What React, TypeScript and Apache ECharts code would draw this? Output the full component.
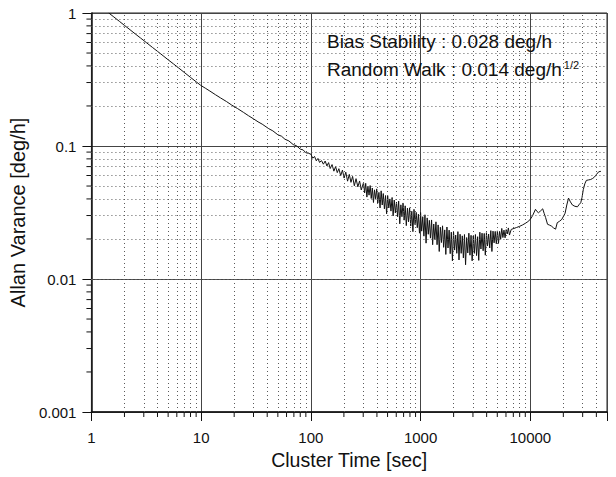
import React, { useEffect, useRef } from "react";
import * as echarts from "echarts";

// ---- data ----
// smooth part (tau < 100 s)
const tauA = [
  1.44, 1.6, 1.8, 2, 2.25, 2.5, 2.8, 3.16, 3.6, 4,
  4.5, 5, 5.6, 6.24, 7, 8, 9, 9.9, 11, 12,
  13.5, 15, 17, 19, 21.5, 24.3, 27, 30, 33, 36,
  41.3, 45, 50, 54, 58, 63, 69, 74, 80, 85,
  90, 95,
];
const devA = [
  1.0, 0.934, 0.865, 0.807, 0.748, 0.698, 0.649, 0.6, 0.551, 0.515,
  0.477, 0.445, 0.414, 0.386, 0.358, 0.328, 0.304, 0.286, 0.271, 0.259,
  0.243, 0.23, 0.216, 0.203, 0.191, 0.179, 0.169, 0.16, 0.152, 0.146,
  0.135, 0.13, 0.1215, 0.1185, 0.1125, 0.1092, 0.1025, 0.1004, 0.0948, 0.0934,
  0.089, 0.0882,
];
// onset of the noise (100 s .. 300 s)
const tauB = [
  100, 104, 108, 112, 116, 120, 125, 130, 135, 140,
  145, 150, 156, 162, 168, 174, 180, 187, 194, 201,
  208, 216, 224, 232, 240, 249, 258, 268, 278, 288,
];
const devB = [
  0.0868, 0.0809, 0.0835, 0.0774, 0.0806, 0.0753, 0.0776, 0.073, 0.0771, 0.0708,
  0.075, 0.0677, 0.0725, 0.0647, 0.07, 0.0631, 0.0675, 0.0598, 0.0659, 0.0574,
  0.0636, 0.0544, 0.0612, 0.0533, 0.0591, 0.0502, 0.0568, 0.0493, 0.0546, 0.0467,
];
// dense noisy band (300 s .. 6500 s)
const tauBand = [
  302, 309, 316, 324, 331, 339, 347, 355, 363, 372,
  380, 389, 398, 407, 417, 427, 437, 447, 457, 468,
  479, 490, 501, 513, 525, 537, 550, 562, 575, 589,
  603, 617, 631, 646, 661, 676, 692, 708, 724, 741,
  759, 776, 794, 813, 832, 851, 871, 891, 912, 933,
  955, 977, 1000, 1023, 1047, 1072, 1096, 1122, 1148, 1175,
  1202, 1230, 1259, 1288, 1318, 1349, 1380, 1413, 1445, 1479,
  1514, 1549, 1585, 1622, 1660, 1698, 1738, 1778, 1820, 1862,
  1905, 1950, 1995, 2042, 2089, 2138, 2188, 2239, 2291, 2344,
  2399, 2455, 2512, 2570, 2630, 2692, 2754, 2818, 2884, 2951,
  3020, 3090, 3162, 3236, 3311, 3388, 3467, 3548, 3631, 3715,
  3802, 3890, 3981, 4074, 4169, 4266, 4365, 4467, 4571, 4677,
  4786, 4898, 5012, 5129, 5248, 5370, 5495, 5623, 5754, 5888,
  6026, 6166, 6310, 6457,
];
const devBand = [
  0.0531, 0.0444, 0.0524, 0.0413, 0.0498, 0.0427, 0.0504, 0.0403, 0.0483, 0.0376,
  0.0468, 0.0401, 0.0476, 0.0372, 0.0448, 0.0342, 0.046, 0.036, 0.0439, 0.0337,
  0.0424, 0.0309, 0.0424, 0.0342, 0.04, 0.0324, 0.041, 0.0298, 0.0392, 0.0314,
  0.0379, 0.0294, 0.0385, 0.026, 0.0361, 0.0294, 0.0373, 0.0277, 0.0355, 0.0252,
  0.0341, 0.0269, 0.0343, 0.025, 0.0323, 0.0227, 0.0334, 0.0256, 0.0317, 0.0243,
  0.0307, 0.0221, 0.0316, 0.0229, 0.0294, 0.021, 0.0304, 0.0186, 0.0288, 0.0217,
  0.0276, 0.0203, 0.0278, 0.0181, 0.0259, 0.0198, 0.0269, 0.0181, 0.0255, 0.0161,
  0.0245, 0.0188, 0.0251, 0.0173, 0.0234, 0.0153, 0.0246, 0.0171, 0.0233, 0.0155,
  0.0225, 0.0137, 0.0228, 0.0165, 0.0214, 0.0156, 0.0227, 0.0139, 0.0217, 0.0156,
  0.0211, 0.0144, 0.0216, 0.0128, 0.0205, 0.0157, 0.0221, 0.0151, 0.0213, 0.0137,
  0.0211, 0.0156, 0.0216, 0.015, 0.0208, 0.0138, 0.0225, 0.0168, 0.0221, 0.0163,
  0.022, 0.0151, 0.0223, 0.0177, 0.0218, 0.0171, 0.0231, 0.0161, 0.0229, 0.0187,
  0.0228, 0.0184, 0.023, 0.0185, 0.0228, 0.0199, 0.024, 0.0205, 0.0233, 0.0204,
  0.0235, 0.0218, 0.0242, 0.0214,
];
// long-tau tail
const tauC = [
  6700, 7100, 7500, 8000, 8500, 9000, 9500, 10000, 10500, 11150,
  11500, 11870, 12400, 12970, 13400, 13780, 14350, 15000, 15570, 16300,
  17000, 17600, 18500, 19380, 20750, 21500, 22300, 23200, 24200, 25500,
  26900, 28000, 28800, 29600, 30400, 31400, 32400, 34000, 35500, 37000,
  38500, 40000, 42000, 44000,
];
const devC = [
  0.0236, 0.024, 0.0244, 0.0249, 0.0255, 0.0262, 0.027, 0.0281, 0.03, 0.0334,
  0.0322, 0.0315, 0.0325, 0.0337, 0.031, 0.029, 0.0258, 0.0254, 0.025, 0.0242,
  0.0237, 0.0265, 0.0272, 0.0281, 0.0312, 0.036, 0.0406, 0.038, 0.036, 0.0352,
  0.0349, 0.0365, 0.0374, 0.041, 0.047, 0.052, 0.0551, 0.0556, 0.056, 0.057,
  0.0585, 0.061, 0.064, 0.0645,
];

const xRange = [1, 50000];
const yRange = [0.001, 1];
const xTicks = [1, 10, 100, 1000, 10000];
const xTickLabels = ["1", "10", "100", "1000", "10000"];
const yTicks = [0.001, 0.01, 0.1, 1];
const yTickLabels = ["0.001", "0.01", "0.1", "1"];
const xTitle = "Cluster Time [sec]";
const yTitle = "Allan Varance [deg/h]";
const note1 = "Bias Stability : 0.028 deg/h";
const note2 = "Random Walk : 0.014 deg/h";
const note2Sup = "1/2";

const FONT = "'Liberation Sans', Arial, Helvetica, sans-serif";

function labelFor(v: number, ticks: number[], labels: string[]) {
  for (let i = 0; i < ticks.length; i++) {
    if (Math.abs(Math.log10(v) - Math.log10(ticks[i])) < 1e-6) return labels[i];
  }
  return "";
}

function minorValues(decades: number[], max: number) {
  const out: number[] = [];
  for (const d of decades) {
    for (let k = 2; k <= 9; k++) {
      const v = k * d;
      if (v < max * 0.999) out.push(v);
    }
  }
  return out;
}

export default function App() {
  const ref = useRef<HTMLDivElement>(null);

  useEffect(() => {
    if (!ref.current) return;
    const chart = echarts.init(ref.current, undefined, { renderer: "svg" });

    const tau = [...tauA, ...tauB, ...tauBand, ...tauC];
    const dev = [...devA, ...devB, ...devBand, ...devC];
    const data = tau.map((t, i) => [t, dev[i]]);

    const xMinor = minorValues(xTicks, xRange[1]);
    const yMinor = minorValues(yTicks.slice(0, 3), yRange[1]);

    const axisCommon = {
      type: "log" as const,
      logBase: 10,
      nameLocation: "middle" as const,
      axisLine: { show: true, onZero: false, lineStyle: { color: "#111", width: 1.5 } },
      axisTick: { show: true, length: 9, lineStyle: { color: "#111", width: 1 } },
      splitLine: { show: true, lineStyle: { color: "#444", width: 1 } },
      minorTick: { show: false },
    };

    chart.setOption({
      animation: false,
      backgroundColor: "#ffffff",
      textStyle: { fontFamily: FONT },
      grid: {
        left: 77,
        top: 13,
        width: 530,
        height: 399,
        show: true,
        borderColor: "#222",
        borderWidth: 1,
      },
      xAxis: {
        ...axisCommon,
        min: xRange[0],
        max: xRange[1],
        name: xTitle,
        nameGap: 37,
        nameTextStyle: { fontSize: 19.5, color: "#111", fontFamily: FONT },
        axisLabel: {
          interval: 0,
          margin: 18,
          fontSize: 15,
          color: "#111",
          fontFamily: FONT,
          formatter: (v: number) => labelFor(v, xTicks, xTickLabels),
        },
      },
      yAxis: {
        ...axisCommon,
        min: yRange[0],
        max: yRange[1],
        name: yTitle,
        nameGap: 36,
        nameTextStyle: { fontSize: 20, color: "#111", fontFamily: FONT },
        axisLabel: {
          interval: 0,
          margin: 15,
          fontSize: 15,
          color: "#111",
          fontFamily: FONT,
          formatter: (v: number) => labelFor(v, yTicks, yTickLabels),
        },
      },
      series: [
        {
          type: "line",
          name: "minor grid",
          data: [],
          silent: true,
          z: 1,
          markLine: {
            silent: true,
            animation: false,
            symbol: ["none", "none"],
            label: { show: false },
            emphasis: { disabled: true },
            lineStyle: { color: "#5a5a5a", width: 1, type: [1, 3] },
            data: [
              ...xMinor.map((v) => ({ xAxis: v })),
              ...yMinor.map((v) => ({ yAxis: v })),
            ],
          },
        },
        {
          type: "line",
          name: "Allan",
          data,
          z: 3,
          symbol: "none",
          showSymbol: false,
          clip: true,
          silent: true,
          lineStyle: { color: "#111", width: 1 },
        },
      ],
    });

    const px = (v: number) => chart.convertToPixel({ xAxisIndex: 0 }, v) as number;
    const py = (v: number) => chart.convertToPixel({ yAxisIndex: 0 }, v) as number;
    const x0 = px(xRange[0]);
    const y0 = py(yRange[0]);

    const tickEls: any[] = [
      ...xMinor.map((v) => ({
        type: "line",
        silent: true,
        shape: { x1: px(v), y1: y0, x2: px(v), y2: y0 + 5 },
        style: { stroke: "#111", lineWidth: 1 },
      })),
      ...yMinor.map((v) => ({
        type: "line",
        silent: true,
        shape: { x1: x0 - 5, y1: py(v), x2: x0, y2: py(v) },
        style: { stroke: "#111", lineWidth: 1 },
      })),
    ];

    chart.setOption({
      graphic: [
        {
          type: "text",
          x: 327,
          y: 41.5,
          z: 10,
          silent: true,
          style: {
            text: note1,
            fontSize: 19,
            fontFamily: FONT,
            fill: "#111",
            align: "left",
            verticalAlign: "middle",
          },
        },
        {
          type: "text",
          x: 327,
          y: 69,
          z: 10,
          silent: true,
          style: {
            text: note2 + "{sup|" + note2Sup + "}",
            fontSize: 19,
            fontFamily: FONT,
            fill: "#111",
            align: "left",
            verticalAlign: "middle",
            rich: {
              sup: { fontSize: 11, fontFamily: FONT, fill: "#111", verticalAlign: "top", padding: [0, 0, 0, 2] },
            },
          },
        },
        ...tickEls,
      ],
    });

    return () => chart.dispose();
  }, []);

  return (
    <div
      ref={ref}
      style={{ position: "fixed", left: 0, top: 0, width: 616, height: 477, background: "#fff" }}
    />
  );
}
